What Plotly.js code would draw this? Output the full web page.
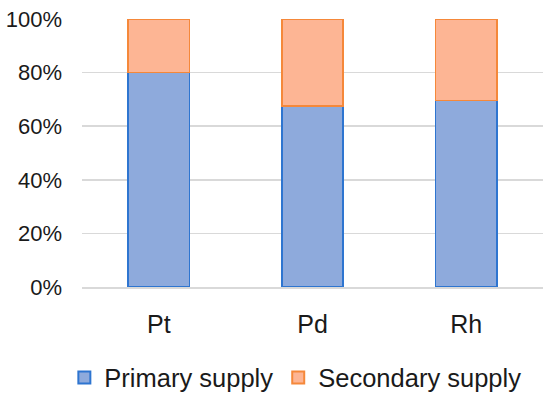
<!DOCTYPE html>
<html>
<head>
<meta charset="utf-8">
<script src="https://cdn.plot.ly/plotly-3.0.1.min.js"></script>
<style>html,body{margin:0;padding:0;background:#fff;}#chart{width:550px;height:399px;}</style>
</head>
<body>
<div id="chart"></div>
<script>
const categories = ["Pt", "Pd", "Rh"];
const primarySupply = [80, 67.5, 69.5];
const secondarySupply = [20, 32.5, 30.5];
const yTickValues = [0, 20, 40, 60, 80, 100];
const yTickLabels = ["0%", "20%", "40%", "60%", "80%", "100%"];

const traces = [
  {
    type: "bar", name: "Primary supply", x: categories, y: primarySupply,
    marker: {color: "#8eaadc", line: {color: "#2e75d0", width: 1.5}},
    hoverinfo: "skip"
  },
  {
    type: "bar", name: "Secondary supply", x: categories, y: secondarySupply,
    marker: {color: "#fdb594", line: {color: "#f5883a", width: 1.5}},
    hoverinfo: "skip"
  }
];

const layout = {
  width: 550, height: 399,
  margin: {l: 82, r: 7, t: 19, b: 112},
  barmode: "stack",
  bargap: 0.6,
  paper_bgcolor: "#ffffff",
  plot_bgcolor: "#ffffff",
  font: {family: "Liberation Sans, Arial, sans-serif", color: "#1a1a1a", size: 18},
  showlegend: true,
  legend: {
    orientation: "h", xref: "container", x: 0.537, xanchor: "center",
    yref: "container", y: 0.053, yanchor: "middle",
    font: {size: 25.5, color: "#1a1a1a"}, traceorder: "normal", itemsizing: "constant",
    itemwidth: 30
  },
  xaxis: {
    type: "category", showgrid: false, zeroline: false,
    showline: true, linecolor: "#d9d9d9", linewidth: 1.5,
    ticks: "", tickfont: {size: 25}, ticklabelstandoff: 14, automargin: false
  },
  yaxis: {
    range: [0, 100], tickvals: yTickValues, ticktext: yTickLabels,
    showgrid: true, gridcolor: "#d9d9d9", gridwidth: 1.5,
    zeroline: false, showline: false, ticks: "",
    tickfont: {size: 22}, ticklabelstandoff: 19, automargin: false
  }
};

Plotly.newPlot("chart", traces, layout, {staticPlot: true, displayModeBar: false});
</script>
</body>
</html>
